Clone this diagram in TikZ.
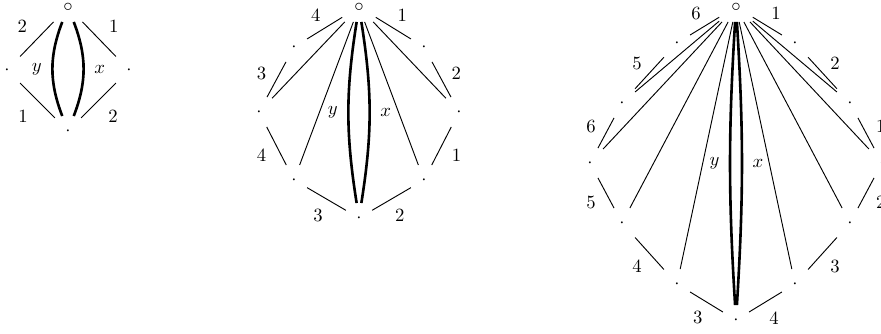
\documentclass[tikz,border=0pt]{standalone}
\usepackage{amsmath}
\usepackage{tikz}

\newcommand{\vdot}{\raisebox{-2.5pt}{$\cdot$}}
\newcommand{\vcirc}{\raisebox{-2.5pt}{$\circ$}}

\begin{document}
\begin{tikzpicture}[
  x=0.535pt, y=-0.535pt,
  vtx/.style={rectangle, inner sep=0pt, outer sep=0pt, minimum width=14pt,
             minimum height=16pt, text height=0pt, text depth=0pt},
  base/.style={vtx, minimum width=18pt},
  lab/.style={circle, inner sep=0pt, outer sep=0pt, minimum size=18pt, yshift=-0.8pt},
  clab/.style={inner sep=5pt},
  rim/.style={line width=0.5pt},
  lens/.style={line width=1.4pt}
]
\useasboundingbox (0,0) rectangle (881,334);

\node[base] (top1) at (68,7) {\vcirc};
\node[vtx] (lft1) at (7,70) {\vdot};
\node[vtx] (bot1) at (68,131) {\vdot};
\node[vtx] (rgt1) at (129,70) {\vdot};
\draw[rim] (top1) -- node[lab, minimum size=22pt, anchor=-45] {2} (lft1);
\draw[rim] (lft1) -- node[lab, minimum size=22pt, anchor=45] {1} (bot1);
\draw[rim] (bot1) -- node[lab, minimum size=22pt, anchor=135] {2} (rgt1);
\draw[rim] (rgt1) -- node[lab, minimum size=22pt, anchor=-135] {1} (top1);
\draw[lens] (top1) to[bend right=21] node[clab, left] {$y$} (bot1);
\draw[lens] (top1) to[bend left=21] node[clab, right] {$x$} (bot1);

\node[base] (top2) at (359,7) {\vcirc};
\node[vtx] (ul2) at (294,47) {\vdot};
\node[vtx] (lft2) at (259,112) {\vdot};
\node[vtx] (ll2) at (294,180) {\vdot};
\node[vtx] (bot2) at (359,218) {\vdot};
\node[vtx] (lr2) at (424,180) {\vdot};
\node[vtx] (rgt2) at (459,112) {\vdot};
\node[vtx] (ur2) at (424,47) {\vdot};
\draw[rim] (top2) -- node[lab, anchor=-58] {4} (ul2);
\draw[rim] (ul2) -- node[lab, anchor=-28] {3} (lft2);
\draw[rim] (lft2) -- node[lab, anchor=27] {4} (ll2);
\draw[rim] (ll2) -- node[lab, anchor=60] {3} (bot2);
\draw[rim] (bot2) -- node[lab, anchor=120] {2} (lr2);
\draw[rim] (lr2) -- node[lab, anchor=153] {1} (rgt2);
\draw[rim] (rgt2) -- node[lab, anchor=-152] {2} (ur2);
\draw[rim] (ur2) -- node[lab, anchor=-122] {1} (top2);
\draw[rim] (top2) -- (lft2);
\draw[rim] (top2) -- (ll2);
\draw[rim] (top2) -- (lr2);
\draw[rim] (top2) -- (rgt2);
\draw[lens] (top2) to[bend right=9] node[clab, left] {$y$} (bot2);
\draw[lens] (top2) to[bend left=9] node[clab, right] {$x$} (bot2);

\node[base] (top3) at (736,7) {\vcirc};
\node[vtx] (l31) at (677,43) {\vdot};
\node[vtx] (l32) at (622,103) {\vdot};
\node[vtx] (l33) at (590,163) {\vdot};
\node[vtx] (l34) at (622,223) {\vdot};
\node[vtx] (l35) at (677,284) {\vdot};
\node[vtx] (bot3) at (736,320) {\vdot};
\node[vtx] (r35) at (795,284) {\vdot};
\node[vtx] (r34) at (850,223) {\vdot};
\node[vtx] (r33) at (882,163) {\vdot};
\node[vtx] (r32) at (850,103) {\vdot};
\node[vtx] (r31) at (795,43) {\vdot};
\draw[rim] (top3) -- node[lab, anchor=-59] {6} (l31);
\draw[rim] (l31) -- node[lab, anchor=-42] {5} (l32);
\draw[rim] (l32) -- node[lab, anchor=-28] {6} (l33);
\draw[rim] (l33) -- node[lab, anchor=28] {5} (l34);
\draw[rim] (l34) -- node[lab, anchor=42] {4} (l35);
\draw[rim] (l35) -- node[lab, anchor=59] {3} (bot3);
\draw[rim] (bot3) -- node[lab, anchor=121] {4} (r35);
\draw[rim] (r35) -- node[lab, anchor=138] {3} (r34);
\draw[rim] (r34) -- node[lab, anchor=152] {2} (r33);
\draw[rim] (r33) -- node[lab, anchor=-152] {1} (r32);
\draw[rim] (r32) -- node[lab, anchor=-138] {2} (r31);
\draw[rim] (r31) -- node[lab, anchor=-121] {1} (top3);
\draw[rim] (top3) -- (l32);
\draw[rim] (top3) -- (l33);
\draw[rim] (top3) -- (l34);
\draw[rim] (top3) -- (l35);
\draw[rim] (top3) -- (r35);
\draw[rim] (top3) -- (r34);
\draw[rim] (top3) -- (r33);
\draw[rim] (top3) -- (r32);
\draw[lens] (top3) to[bend right=3.5] node[clab, left] {$y$} (bot3);
\draw[lens] (top3) to[bend left=3.5] node[clab, right] {$x$} (bot3);
\end{tikzpicture}
\end{document}
